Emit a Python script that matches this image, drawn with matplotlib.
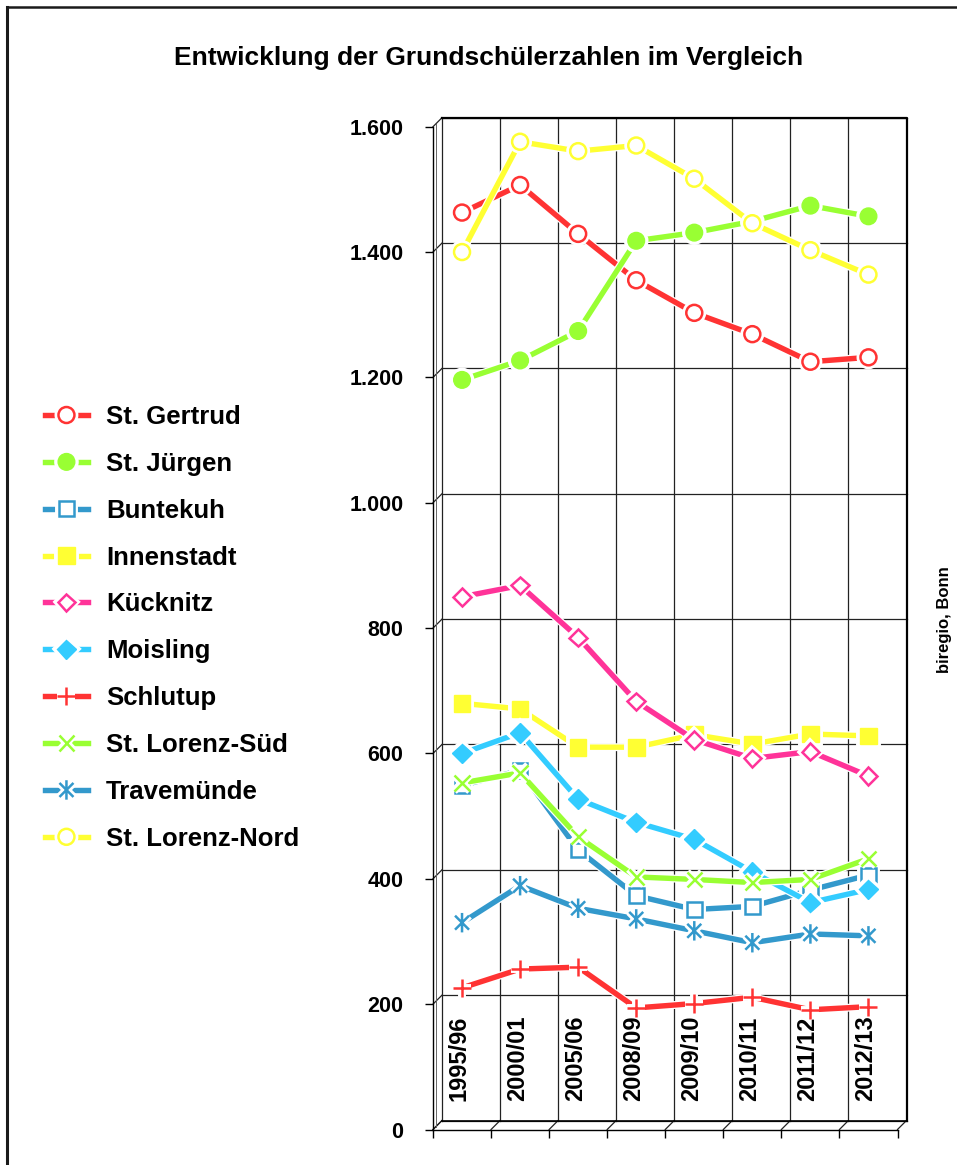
import matplotlib
matplotlib.use("Agg")
import matplotlib.pyplot as plt
import matplotlib.patheffects as pe
from matplotlib.lines import Line2D
from matplotlib.path import Path
import numpy as np

plt.rcParams["font.family"] = ["Liberation Sans", "DejaVu Sans"]
plt.rcParams["font.weight"] = "bold"

# school years and pupil counts per district
categories = ["1995/96", "2000/01", "2005/06", "2008/09", "2009/10", "2010/11", "2011/12", "2012/13"]
st_gertrud = [1463, 1507, 1429, 1355, 1303, 1269, 1225, 1232]
st_juergen = [1196, 1227, 1274, 1418, 1431, 1449, 1474, 1457]
buntekuh = [549, 573, 446, 373, 351, 356, 382, 406]
innenstadt = [680, 671, 610, 610, 630, 615, 631, 628]
kuecknitz = [850, 868, 785, 683, 622, 592, 603, 564]
moisling = [600, 633, 527, 490, 463, 411, 362, 383]
schlutup = [226, 256, 259, 194, 201, 211, 191, 196]
st_lorenz_sued = [553, 569, 467, 403, 399, 394, 399, 432]
travemuende = [330, 389, 353, 336, 317, 298, 312, 309]
st_lorenz_nord = [1400, 1576, 1561, 1570, 1517, 1446, 1403, 1364]
y_ticks = list(range(0, 1601, 200))

RED, GREEN, BLUE = "#FF3333", "#99FF33", "#3399CC"
YELLOW, PINK, CYAN = "#FFFF33", "#FF3399", "#33CCFF"

# asterisk marker: vertical bar plus an x
star = Path([(0, -1), (0, 1), (-0.72, -0.72), (0.72, 0.72), (-0.72, 0.72), (0.72, -0.72)],
            [Path.MOVETO, Path.LINETO] * 3)

series = [
    ("St. Gertrud", st_gertrud, RED, dict(marker="o", ms=11.5, mfc="white", mew=1.8)),
    ("St. Jürgen", st_juergen, GREEN, dict(marker="o", ms=12, mfc=GREEN, mew=1.0)),
    ("Buntekuh", buntekuh, BLUE, dict(marker="s", ms=10.5, mfc="white", mew=1.8)),
    ("Innenstadt", innenstadt, YELLOW, dict(marker="s", ms=12, mfc=YELLOW, mew=1.0)),
    ("Kücknitz", kuecknitz, PINK, dict(marker="D", ms=9, mfc="white", mew=1.8)),
    ("Moisling", moisling, CYAN, dict(marker="D", ms=10, mfc=CYAN, mew=1.0)),
    ("Schlutup", schlutup, RED, dict(marker="+", ms=13, mew=1.8)),
    ("St. Lorenz-Süd", st_lorenz_sued, GREEN, dict(marker="x", ms=11, mew=1.8)),
    ("Travemünde", travemuende, BLUE, dict(marker=star, ms=14, mew=1.8)),
    ("St. Lorenz-Nord", st_lorenz_nord, YELLOW, dict(marker="o", ms=11.5, mfc="white", mew=1.8)),
]

W, H = 957, 1165
fig = plt.figure(figsize=(W / 100, H / 100), dpi=100)
fx0, fx1, fy0, fy1 = 433, 897.5, 1129.5, 126.7  # front frame in pixels
ax = fig.add_axes([fx0 / W, (H - fy0) / H, (fx1 - fx0) / W, (fy0 - fy1) / H])
ax.set_xlim(-0.5, 7.5)
ax.set_ylim(0, 1600)

# depth offset of the back wall (9 px right, 9 px up) in data units
dx = 9 / ((fx1 - fx0) / 8)
dy = 9 / ((fy0 - fy1) / 1600)
x_left, x_right = -0.5 + dx, 7.5 + dx
grid_kw = dict(color="#222222", lw=0.9, clip_on=False, zorder=0.5)

for v in y_ticks:
    ax.plot([x_left, x_right], [v + dy, v + dy], **grid_kw)
    ax.plot([-0.5, x_left], [v, v + dy], **grid_kw)
for k in range(9):
    ax.plot([k - 0.5, k - 0.5 + dx], [0, dy], **grid_kw)
    if 0 < k < 8:
        ax.plot([k - 0.5 + dx] * 2, [dy, 1600 + dy], **grid_kw)
ax.plot([x_left, x_left], [dy, 1600 + dy], **grid_kw)
ax.plot([-0.5 + 0.3 * dx] * 2, [0.3 * dy, 1600 + 0.3 * dy], color="#666666", lw=0.7, clip_on=False, zorder=0.5)
ax.plot([x_left, x_right, x_right], [1600 + dy, 1600 + dy, dy], color="black", lw=1.6, clip_on=False, zorder=0.6)
ax.plot([x_left, x_right], [dy, dy], color="black", lw=1.2, clip_on=False, zorder=0.6)

for i, cat in enumerate(categories):
    ax.text(i - 0.05, 45, cat, rotation=90, ha="center", va="bottom", fontsize=17, fontweight="bold")

x = np.arange(len(categories))
for z, (name, values, color, style) in enumerate(series):
    ax.plot(x, values, color=color, lw=3.9, mec=color, label=name, clip_on=False, zorder=2 + z,
            path_effects=[pe.Stroke(linewidth=5.7, foreground="white"), pe.Normal()], **style)

for side in ("top", "right"):
    ax.spines[side].set_visible(False)
for side in ("left", "bottom"):
    ax.spines[side].set_linewidth(1.0)
ax.set_yticks(y_ticks)
ax.set_yticklabels([f"{v:,}".replace(",", ".") for v in y_ticks], fontsize=15.5, fontweight="bold")
ax.set_xticks(np.arange(-0.5, 8, 1))
ax.set_xticklabels([])
ax.tick_params(axis="both", direction="out", length=5.8, width=1.0)
ax.tick_params(axis="y", pad=15.5)
ax.patch.set_visible(False)

fig.text(489 / W, 1 - 58 / H, "Entwicklung der Grundschülerzahlen im Vergleich",
         ha="center", va="center", fontsize=19, fontweight="bold")
fig.text(944 / W, 1 - 620 / H, "biregio, Bonn", rotation=90, ha="center", va="center",
         fontsize=12, fontweight="bold")

fig.legend(loc="upper left", bbox_to_anchor=(45 / W, 1 - 405 / H), frameon=False,
           prop=dict(size=18.5, weight="bold"), handlelength=1.67, handletextpad=0.7,
           labelspacing=0.89, borderpad=0, borderaxespad=0, numpoints=1)

# frame around the figure (left and top edges visible in the source)
fig.add_artist(Line2D([7 / W, 7 / W], [0, 1 - 7 / H], color="#1a1a1a", lw=2.2))
fig.add_artist(Line2D([7 / W, 1], [1 - 7 / H, 1 - 7 / H], color="#1a1a1a", lw=1.8))

fig.savefig("out.png", dpi=100)
